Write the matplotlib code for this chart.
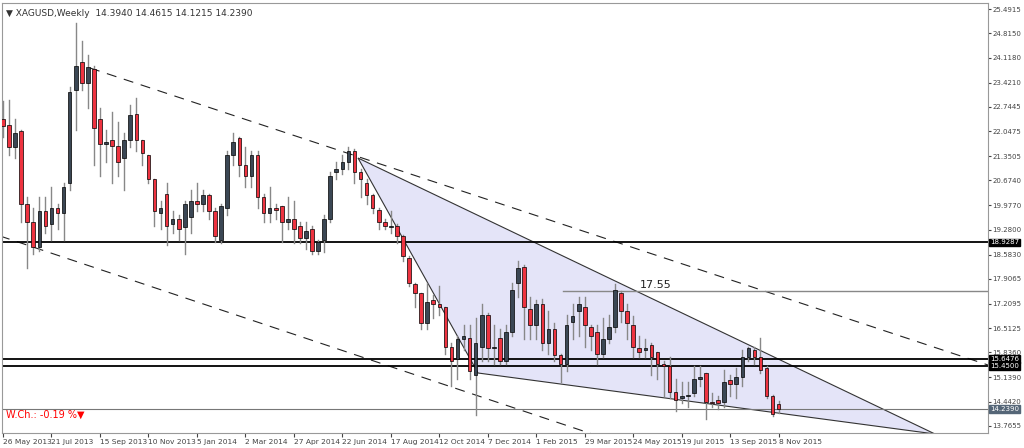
import matplotlib
matplotlib.use("Agg")
import matplotlib.pyplot as plt
from matplotlib.patches import Polygon

# weekly XAGUSD candles, 26 May 2013 .. 8 Nov 2015
opens = [22.4, 22.23, 21.6, 22.06, 20.0, 19.5, 18.8, 19.8, 19.45, 19.9,
         19.75, 20.6, 23.2, 24.0, 23.4, 23.8, 22.4, 21.7, 21.8, 21.65,
         21.3, 21.8, 22.55, 21.8, 21.4, 20.7, 19.75, 20.3, 19.45, 19.6,
         19.35, 19.65, 20.1, 20.0, 20.25, 19.8, 19.0, 19.9, 21.4, 21.85,
         21.1, 20.8, 21.4, 20.2, 19.75, 19.9, 19.95, 19.5, 19.6, 19.4,
         19.05, 19.3, 18.7, 19.0, 19.6, 20.9, 21.0, 21.2, 21.5, 20.9,
         20.6, 20.25, 19.85, 19.5, 19.35, 19.4, 19.1, 18.5, 17.75, 17.5,
         16.65, 17.3, 17.2, 17.1, 16.0, 15.65, 16.2, 16.25, 15.2, 16.0,
         16.9, 15.95, 16.25, 15.6, 16.4, 17.8, 18.25, 17.05, 16.6, 17.2,
         16.1, 16.5, 15.75, 15.5, 16.7, 17.0, 17.1, 16.55, 16.4, 15.8,
         16.2, 16.55, 17.5, 17.0, 16.6, 15.95, 15.9, 16.05, 15.85, 15.5,
         15.45, 14.72, 14.55, 14.62, 14.7, 15.1, 15.25, 14.45, 14.5, 14.45,
         15.05, 14.95, 15.15, 15.7, 15.9, 15.7, 15.4, 14.6, 14.394]
closes = [22.2, 21.6, 22.0, 20.0, 19.5, 18.8, 19.8, 19.4, 19.9, 19.75,
          20.5, 23.15, 23.9, 23.4, 23.85, 22.15, 21.7, 21.75, 21.65, 21.2,
          21.8, 22.5, 21.8, 21.45, 20.7, 19.8, 19.9, 19.4, 19.6, 19.3,
          20.0, 20.1, 20.0, 20.25, 19.8, 19.1, 19.95, 21.4, 21.75, 21.1,
          20.8, 21.4, 20.2, 19.75, 19.9, 19.85, 19.5, 19.6, 19.3, 19.05,
          19.25, 18.7, 18.95, 19.6, 20.8, 21.0, 21.2, 21.5, 20.9, 20.7,
          20.25, 19.9, 19.5, 19.4, 19.4, 19.1, 18.55, 17.8, 17.5, 16.65,
          17.25, 17.2, 17.1, 16.0, 15.6, 16.2, 16.3, 15.3, 16.1, 16.9,
          15.95, 15.95, 15.6, 16.4, 17.6, 18.2, 17.1, 16.6, 17.2, 16.1,
          16.5, 15.75, 15.5, 16.6, 16.85, 17.2, 16.6, 16.3, 15.8, 16.2,
          16.55, 17.6, 17.0, 16.65, 16.0, 15.85, 15.95, 15.7, 15.5, 15.45,
          14.72, 14.5, 14.6, 14.65, 15.1, 15.15, 14.45, 14.4, 14.4, 15.0,
          14.95, 15.15, 15.7, 15.95, 15.7, 15.35, 14.6, 14.1, 14.239]
highs = [22.9, 22.93, 22.4, 22.1, 20.2, 19.9, 20.2, 20.2, 20.5, 20.0,
         20.6, 23.3, 25.1, 24.6, 24.2, 23.9, 22.7, 22.1, 22.6, 22.3,
         22.0, 22.8, 23.0, 21.8, 21.4, 20.7, 20.1, 20.6, 19.8, 19.7,
         20.1, 20.4, 20.6, 20.4, 20.3, 19.9, 20.0, 21.5, 22.0, 21.9,
         21.6, 21.5, 21.5, 20.3, 20.5, 20.0, 19.95, 20.2, 20.1, 19.5,
         19.5, 19.4, 19.0, 19.7, 20.9, 21.2, 21.4, 21.6, 21.55, 21.0,
         20.7, 20.3, 19.9, 19.6, 19.8, 19.45, 19.15, 18.55, 17.8, 17.5,
         17.8, 17.45, 17.7, 17.1, 16.1, 16.3, 16.6, 16.6, 16.8, 17.2,
         16.95, 16.6, 16.5, 16.6, 17.8, 18.4, 18.3, 17.4, 17.3, 17.35,
         17.0, 16.65, 15.8, 16.9, 17.2, 17.4, 17.4, 16.6, 16.6, 16.8,
         16.9, 17.75, 17.55, 17.2, 16.85, 16.3, 16.2, 16.1, 15.85, 15.6,
         15.7, 15.1, 15.0, 15.0, 15.45, 15.45, 15.25, 14.7, 14.6, 15.35,
         15.2, 15.4, 15.9, 16.0, 16.0, 16.25, 15.45, 14.65, 14.4615]
lows = [21.9, 21.4, 21.3, 19.5, 18.2, 18.6, 18.7, 19.2, 19.0, 19.3,
        19.0, 20.4, 22.1, 23.2, 22.7, 21.1, 20.8, 21.2, 20.6, 20.8,
        20.4, 21.6, 21.5, 21.1, 20.6, 19.4, 19.3, 18.85, 19.2, 19.0,
        18.6, 19.2, 19.8, 19.8, 19.6, 18.95, 18.9, 19.7, 21.1, 20.8,
        20.5, 20.5, 19.9, 19.5, 19.5, 19.6, 18.95, 19.3, 18.9, 18.9,
        18.75, 18.6, 18.6, 18.65, 19.5, 20.7, 20.85, 21.0, 20.6, 20.2,
        20.0, 19.75, 19.3, 19.3, 19.2, 18.9, 18.4, 17.7, 17.1, 16.5,
        16.5, 16.8, 16.9, 15.8, 14.9, 15.1, 15.9, 15.1, 14.07, 15.6,
        15.6, 15.5, 15.5, 15.5, 16.3, 17.4, 16.2, 16.2, 16.2, 15.9,
        15.8, 15.6, 15.0, 15.3, 16.2, 16.3, 16.0, 15.9, 15.5, 15.7,
        16.1, 16.4, 16.7, 16.2, 15.7, 15.7, 15.7, 15.2, 15.1, 14.6,
        14.55, 14.2, 14.4, 14.3, 14.6, 14.9, 13.95, 14.3, 14.25, 14.3,
        14.6, 14.55, 14.9, 15.6, 15.5, 15.25, 14.55, 14.05, 14.1215]

date_labels = ["26 May 2013", "21 Jul 2013", "15 Sep 2013", "10 Nov 2013", "5 Jan 2014",
               "2 Mar 2014", "27 Apr 2014", "22 Jun 2014", "17 Aug 2014", "12 Oct 2014",
               "7 Dec 2014", "1 Feb 2015", "29 Mar 2015", "24 May 2015", "19 Jul 2015",
               "13 Sep 2015", "8 Nov 2015"]
price_ticks = [25.4915, 24.8150, 24.1180, 23.4210, 22.7445, 22.0475, 21.3505, 20.6740,
               19.9770, 19.2800, 18.5830, 17.9065, 17.2095, 16.5125, 15.8360, 15.1390,
               14.4420, 13.7655]
levels = [18.9287, 15.6476, 15.4500]
last_close = 14.2390
resistance = 17.55


def bx(px):
    # pixel column -> bar index
    return (px - 3) / 6.06


def py(y):
    # pixel row -> price
    return 25.4915 - (y - 9) * 0.02812


fig = plt.figure(figsize=(10.24, 4.48), dpi=100)
ax = fig.add_axes([2 / 1024, 1 - 433 / 448, 986 / 1024, 430 / 448])
ax.set_xlim(bx(2), bx(988))
ax.set_ylim(py(433), py(3))

# shaded triangle
tri = Polygon([(bx(358), py(158)), (bx(478), py(373)), (bx(935), py(434))],
              closed=True, facecolor='#e4e4f8', edgecolor='#333333', lw=0.8, zorder=1)
ax.add_patch(tri)

# dashed channel lines
ax.plot([bx(90), bx(988)], [py(68), py(365)], color='#222222', lw=0.8, ls=(0, (9, 7)), zorder=2)
ax.plot([bx(0), bx(640)], [py(236), py(450)], color='#222222', lw=0.8, ls=(0, (9, 7)), zorder=2)

# horizontal levels
for lv in levels:
    ax.axhline(lv, color='black', lw=1.3, zorder=2)
ax.axhline(last_close, color='#777777', lw=0.8, zorder=2)
ax.plot([bx(563), bx(988)], [resistance, resistance], color='#888888', lw=1.0, zorder=2)
ax.text(bx(640), resistance + 0.05, "17.55", fontsize=8, color='#222222', va='bottom', ha='left')

# candles
for i in range(len(opens)):
    o, h, l, c = opens[i], highs[i], lows[i], closes[i]
    ax.plot([i, i], [l, h], color='#888888', lw=1.0, zorder=3)
    col = '#3b4754' if c >= o else '#ee3340'
    bottom = min(o, c)
    height = max(abs(c - o), 0.03)
    ax.bar(i, height, bottom=bottom, width=0.6, color=col, edgecolor='black', linewidth=0.5, zorder=4)

# axes styling
for s in ax.spines.values():
    s.set_color('#999999')
    s.set_linewidth(0.8)
ax.yaxis.tick_right()
ax.set_yticks(price_ticks)
ax.set_yticklabels([f"{v:.4f}" for v in price_ticks])
ax.tick_params(axis='y', labelsize=5.0, colors='#444444', length=2, pad=1)
ax.set_xticks([8 * k for k in range(len(date_labels))])
ax.set_xticklabels(date_labels, ha='left')
ax.tick_params(axis='x', labelsize=5.4, colors='#444444', length=3, pad=1)

# boxed price labels on right axis
for lv in levels:
    ax.text(1.002, lv, f"{lv:.4f}", transform=ax.get_yaxis_transform(), fontsize=5.0, color='white',
            va='center', ha='left', bbox=dict(boxstyle='square,pad=0.1', fc='black', ec='black'))
ax.text(1.002, last_close, f"{last_close:.4f}", transform=ax.get_yaxis_transform(), fontsize=5.0,
        color='white', va='center', ha='left', bbox=dict(boxstyle='square,pad=0.1', fc='#556677', ec='#556677'))

ax.text(0.004, 0.985, "\u25bc XAGUSD,Weekly  14.3940 14.4615 14.1215 14.2390", transform=ax.transAxes,
        fontsize=6.5, color='#333333', va='top', ha='left')
ax.text(0.004, 0.03, "W.Ch.: -0.19 %\u25bc", transform=ax.transAxes, fontsize=7, color='red',
        va='bottom', ha='left')

fig.savefig("out.png", dpi=100)
